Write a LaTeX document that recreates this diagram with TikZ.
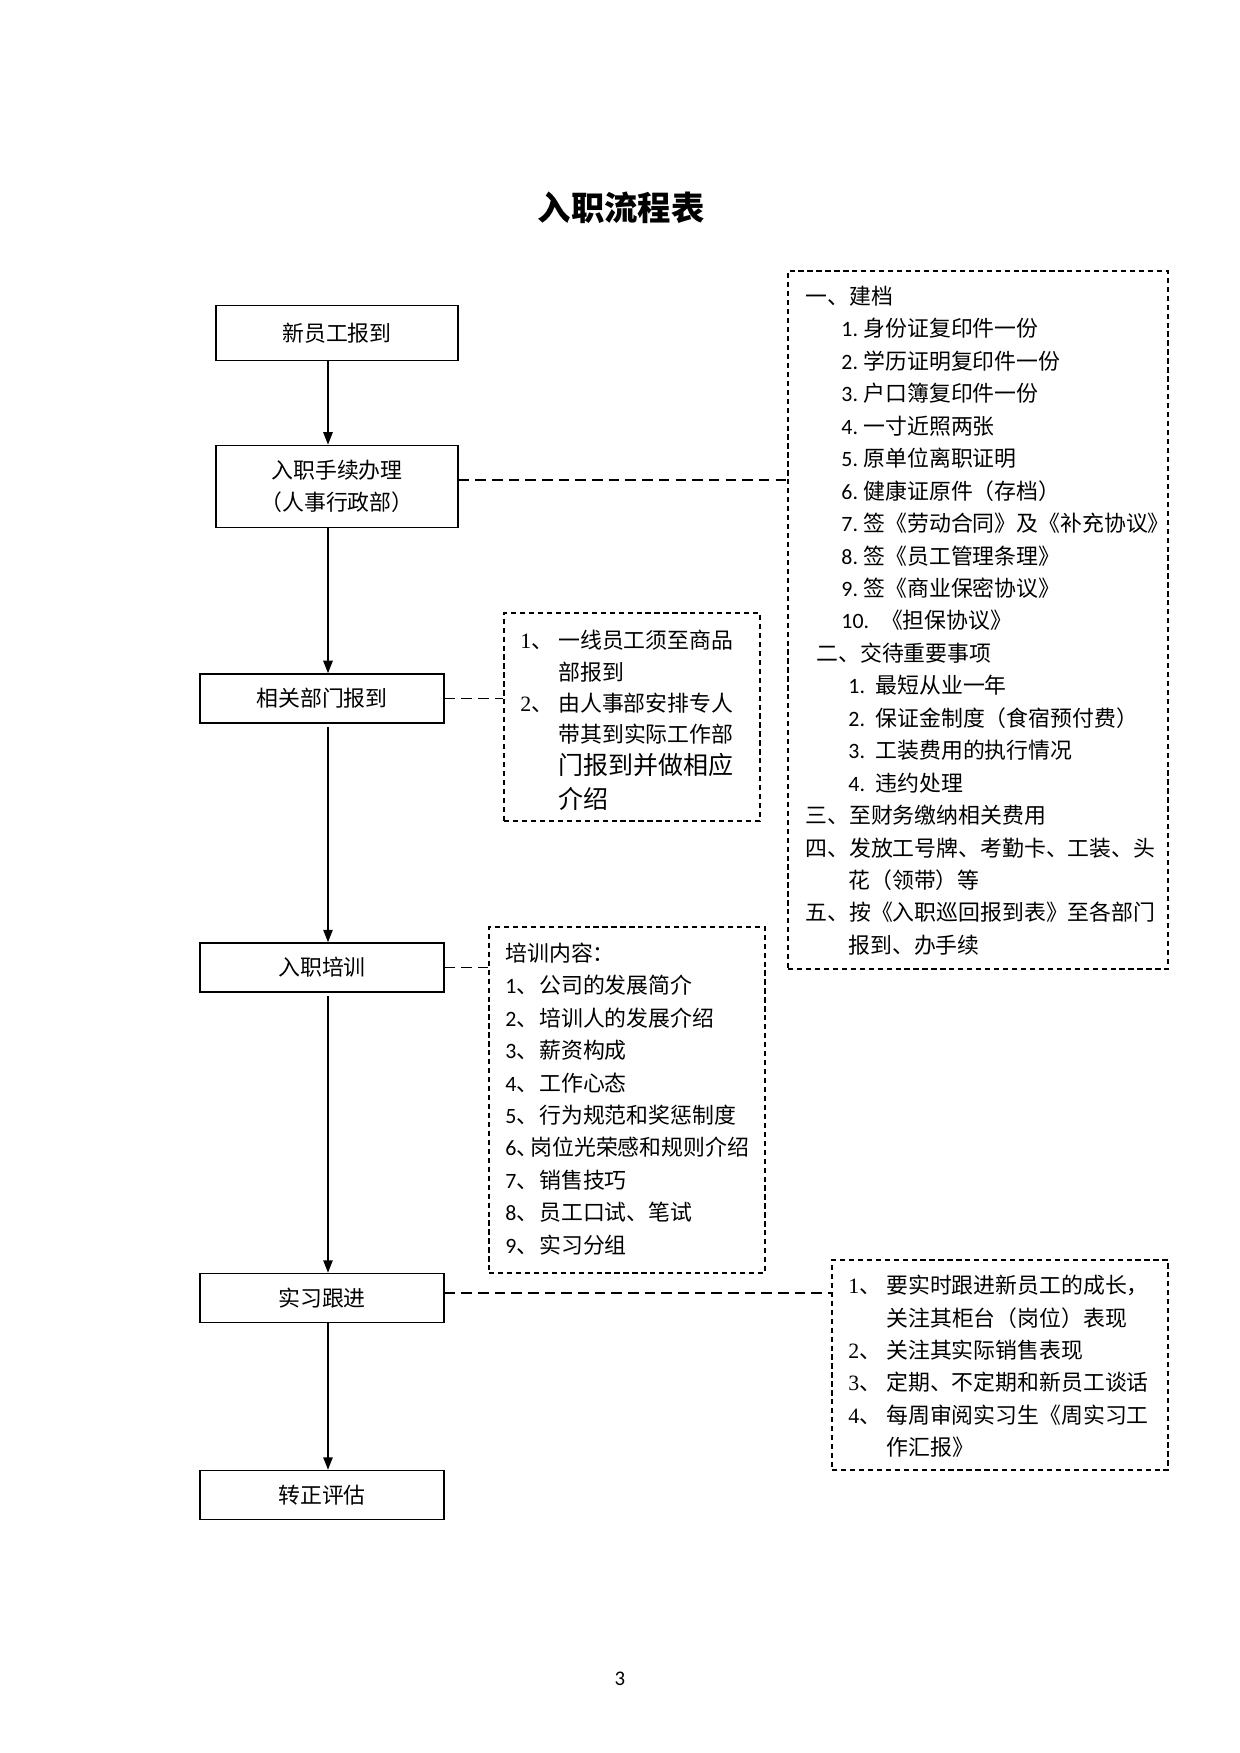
\documentclass[tikz,border=0pt]{standalone}
\usepackage{fontspec}
\setmainfont{Liberation Serif}
\newfontfamily\cjk{Noto Sans CJK SC}
\newfontfamily\calib{Carlito}
\newfontfamily\lserif{Liberation Serif}
\usetikzlibrary{arrows.meta,fit}
\tikzset{
  flow/.style={draw, line width=0.75pt, inner sep=0pt, font=\cjk\fontsize{10.5}{15.4}\selectfont, align=center},
  dbox/.style={draw, line width=0.6pt, dash pattern=on 2.5pt off 1.8pt, inner sep=0pt},
  link/.style={line width=0.75pt, -{Triangle[length=6pt,width=4.5pt]}},
  dlink/.style={line width=0.8pt, dash pattern=on 5pt off 3pt},
  txt/.style={inner sep=0pt, anchor=base west, font=\cjk\fontsize{10.5}{12}\selectfont},
  bigtxt/.style={txt, font=\cjk\fontsize{12}{14}\selectfont},
}
\newcommand\tline[4]{\node[txt] (#1) at (#2,#3) {#4};}
\newcommand\nA[1]{\makebox[10.6pt][l]{\calib #1}}
\newcommand\nB[1]{\makebox[13pt][l]{\calib #1}}
\newcommand\nC[1]{\makebox[18.2pt][l]{{\lserif #1}、}}
\newcommand\nD[1]{\makebox[16.3pt][l]{{\calib #1}、}}
\begin{document}
\begin{tikzpicture}[x=0.48pt, y=-0.48pt]
\useasboundingbox (0,0) rectangle (1240,1753);
\fill[white] (0,0) rectangle (1240,1753);

% title
\node[inner sep=0pt, font=\cjk\bfseries\fontsize{16}{18}\selectfont] (title) at (621,208) {入职流程表};

% flow boxes
\node[flow, minimum width=116.2pt, minimum height=26.4pt] (b1) at (337,333) {新员工报到};
\node[flow, minimum width=116.2pt, minimum height=39.4pt] (b2) at (337,486.5) {入职手续办理\\（人事行政部）};
\node[flow, minimum width=117.1pt, minimum height=23.5pt] (b3) at (322,698.5) {相关部门报到};
\node[flow, minimum width=117.1pt, minimum height=23.5pt] (b4) at (322,967.5) {入职培训};
\node[flow, minimum width=117.1pt, minimum height=23.5pt] (b5) at (322,1298) {实习跟进};
\node[flow, minimum width=117.1pt, minimum height=23.5pt] (b6) at (322,1495) {转正评估};

% arrows
\coordinate (ax) at (328,0);
\draw[link] (b1.south -| ax) -- (b2.north -| ax);
\draw[link] (b2.south -| ax) -- (b3.north -| ax);
\draw[link] ([yshift=-1.5pt]b3.south -| ax) -- (b4.north -| ax);
\draw[link] ([yshift=-1.5pt]b4.south -| ax) -- (b5.north -| ax);
\draw[link] (b5.south -| ax) -- (b6.north -| ax);

% dashed boxes
\coordinate (bigA) at (788,271);  \coordinate (bigB) at (1168,969);
\node[dbox, fit=(bigA)(bigB)] (big) {};
\coordinate (midA) at (504,613);  \coordinate (midB) at (760,821);
\node[dbox, fit=(midA)(midB)] (mid) {};
\coordinate (trA) at (489,927);   \coordinate (trB) at (765,1273);
\node[dbox, fit=(trA)(trB)] (train) {};
\coordinate (fuA) at (832,1260);  \coordinate (fuB) at (1168,1470);
\node[dbox, fit=(fuA)(fuB)] (follow) {};

% dashed connectors
\coordinate (c2) at (0,480);
\coordinate (c5) at (0,1293);
\draw[dlink] (b2.east |- c2) -- (big.west |- c2);
\draw[dlink] (b3.east) -- (mid.west |- b3.east);
\draw[dlink] (b4.east) -- (train.west |- b4.east);
\draw[dlink] (b5.east |- c5) -- (follow.west |- c5);

% big box text
\tline{g1}{805}{304}{一、建档}
\tline{g2}{841}{336.5}{\nA{1.}身份证复印件一份}
\tline{g3}{841}{369}{\nA{2.}学历证明复印件一份}
\tline{g4}{841}{401}{\nA{3.}户口簿复印件一份}
\tline{g5}{841}{434}{\nA{4.}一寸近照两张}
\tline{g6}{841}{466}{\nA{5.}原单位离职证明}
\tline{g7}{841}{499}{\nA{6.}健康证原件（存档）}
\tline{g8}{841}{531}{\nA{7.}签《劳动合同》及《补充协议》}
\tline{g9}{841}{564}{\nA{8.}签《员工管理条理》}
\tline{g10}{841}{596}{\nA{9.}签《商业保密协议》}
\tline{g11}{841}{628.5}{\makebox[19pt][l]{\calib 10.}《担保协议》}
\tline{g12}{816}{661}{二、交待重要事项}
\tline{g13}{848}{693}{\nB{1.}最短从业一年}
\tline{g14}{848}{726}{\nB{2.}保证金制度（食宿预付费）}
\tline{g15}{848}{758}{\nB{3.}工装费用的执行情况}
\tline{g16}{848}{791}{\nB{4.}违约处理}
\tline{g17}{805}{823}{三、至财务缴纳相关费用}
\tline{g18}{805}{856}{四、发放工号牌、考勤卡、工装、头}
\tline{g19}{848}{888}{花（领带）等}
\tline{g20}{805}{920.5}{五、按《入职巡回报到表》至各部门}
\tline{g21}{848}{953}{报到、办手续}

% middle box text
\tline{m1}{520}{648}{\nC{1}一线员工须至商品}
\tline{m2}{558}{680}{部报到}
\tline{m3}{520}{711}{\nC{2}由人事部安排专人}
\tline{m4}{558}{742}{带其到实际工作部}
\node[bigtxt] (m5) at (558,774.5) {门报到并做相应};
\node[bigtxt] (m6) at (558,808.5) {介绍};

% training box text
\tline{t0}{505}{961}{培训内容：}
\tline{t1}{505}{993}{\nD{1}公司的发展简介}
\tline{t2}{505}{1026}{\nD{2}培训人的发展介绍}
\tline{t3}{505}{1058}{\nD{3}薪资构成}
\tline{t4}{505}{1091}{\nD{4}工作心态}
\tline{t5}{505}{1123}{\nD{5}行为规范和奖惩制度}
\tline{t6}{505}{1155}{\makebox[12pt][l]{{\calib 6}、}岗位光荣感和规则介绍}
\tline{t7}{505}{1188}{\nD{7}销售技巧}
\tline{t8}{505}{1220}{\nD{8}员工口试、笔试}
\tline{t9}{505}{1253}{\nD{9}实习分组}

% follow-up box text
\tline{f1}{848}{1293}{\nC{1}要实时跟进新员工的成长，}
\tline{f2}{886}{1326}{关注其柜台（岗位）表现}
\tline{f3}{848}{1358}{\nC{2}关注其实际销售表现}
\tline{f4}{848}{1390}{\nC{3}定期、不定期和新员工谈话}
\tline{f5}{848}{1423}{\nC{4}每周审阅实习生《周实习工}
\tline{f6}{886}{1455}{作汇报》}

% page number
\node[inner sep=0pt, font=\calib\fontsize{10}{12}\selectfont] (pg) at (620,1679) {3};
\end{tikzpicture}
\end{document}
